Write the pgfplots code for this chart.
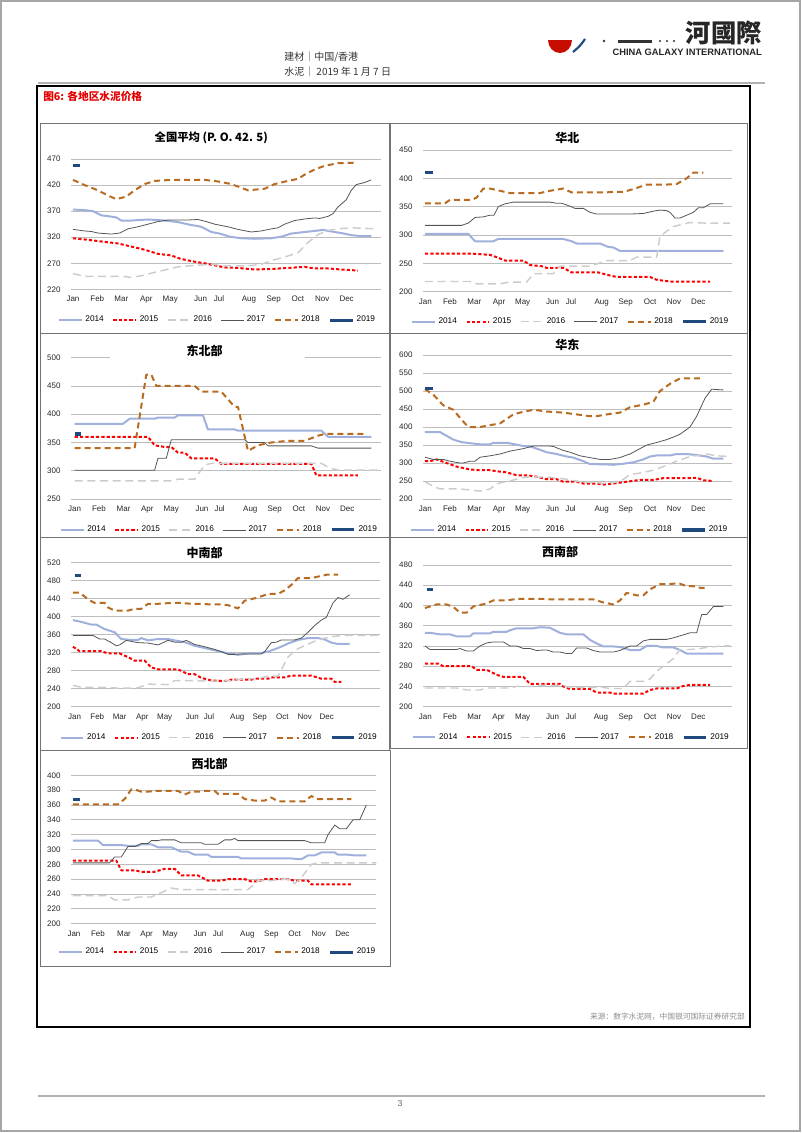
\documentclass[border=0pt]{standalone}
\usepackage{fontspec}
\setmainfont{Liberation Sans}
\newfontfamily\cjk{Noto Sans CJK SC}
\newfontfamily\cjktc{Noto Sans CJK TC}
\usepackage{pgfplots}
\pgfplotsset{compat=1.18}
\definecolor{gridc}{rgb}{0.74,0.74,0.74}
\definecolor{boxc}{rgb}{0.45,0.45,0.45}
\definecolor{c14}{rgb}{0.62,0.69,0.86}
\definecolor{c15}{rgb}{1.0,0.0,0.0}
\definecolor{c16}{rgb}{0.80,0.80,0.80}
\definecolor{c17}{rgb}{0.33,0.33,0.33}
\definecolor{c18}{rgb}{0.72,0.42,0.13}
\definecolor{c19}{rgb}{0.12,0.29,0.50}
\pgfplotsset{
  s14/.style={color=c14, line width=1.5pt, solid},
  s15/.style={color=c15, line width=1.5pt, dash pattern=on 2.4pt off 1.6pt},
  s16/.style={color=c16, line width=1.1pt, dash pattern=on 6pt off 3.5pt},
  s17/.style={color=c17, line width=0.6pt, solid},
  s18/.style={color=c18, line width=1.5pt, dash pattern=on 4.5pt off 3pt},
  s19/.style={color=c19, line width=2.3pt, solid},
  panel/.style={
    scale only axis, xmin=100, xmax=1025, no markers,
    axis x line*=bottom, axis y line*=left,
    x axis line style={draw=gridc, line width=0.6pt, -},
    y axis line style={draw=none},
    major tick length=0pt, tick style={draw=none},
    ymajorgrids, grid style={gridc, line width=0.6pt},
    tick label style={font=\fontsize{6}{7}\selectfont, text=black!85},
    /pgf/number format/assume math mode=true,
    xticklabels={Jan,Feb,Mar,Apr,May,Jun,Jul,Aug,Sep,Oct,Nov,Dec},
    yticklabel style={xshift=-4.5pt},
    xticklabel style={yshift=-1.2pt, text height=4.5pt, text depth=1.3pt},
    clip=false,
    legend style={draw=none, fill=none, anchor=center, font=\fontsize{6.2}{7}\selectfont,
      legend columns=6, /tikz/every even column/.append style={column sep=4.5pt},
      /tikz/every odd column/.append style={column sep=0pt}, inner sep=0pt},
    legend image code/.code={\draw[##1] (0pt,0pt) -- (17pt,0pt);},
    legend entries={2014,2015,2016,2017,2018,2019},
    line join=round,
  }
}
\begin{document}
\begin{tikzpicture}[x=0.75pt,y=0.75pt]
\path (0,0) rectangle (802,-1133);
\coordinate (P1) at (71.3,-289.3);
\coordinate (P2) at (423.3,-291.7);
\coordinate (P3) at (71.3,-499);
\coordinate (P4) at (423.3,-499);
\coordinate (P5) at (71.3,-706.7);
\coordinate (P6) at (423.3,-706.7);
\coordinate (P7) at (71.3,-923.7);
% page border
\draw[gray!70, line width=0.9pt] (1,-1) rectangle (800,-1131);
% header
\fill[red!75!black!90!orange] (548,-40) arc (180:360:12 and 13) -- cycle;
\draw[c19, line width=1.6pt] (585,-39) .. controls (580,-46) .. (573,-52);
\fill[black!80] (604,-41) circle (1.3);
\fill[black!80] (618,-40) rectangle (652,-42.5);
\fill[black!80] (660,-41) circle (1.1);
\fill[black!80] (667,-41) circle (1.1);
\fill[black!80] (674,-41) circle (1.1);
\node[anchor=east, font=\cjktc\bfseries\fontsize{19}{20}\selectfont, text=black!85, inner sep=0pt] at (762,-33) {河國際};
\node[anchor=east, font=\bfseries\fontsize{7}{8}\selectfont, text=black!85, inner sep=0pt] at (762,-52) {CHINA GALAXY INTERNATIONAL};
\node[anchor=west, font=\cjk\fontsize{7.5}{9}\selectfont, text=black!80, inner sep=0pt] at (284,-57) {建材｜中国/香港};
\node[anchor=west, font=\cjk\fontsize{7.5}{9}\selectfont, text=black!80, inner sep=0pt] at (284,-72) {水泥｜ 2019 年 1 月 7 日};
\draw[gray!60, line width=1.3pt] (38,-83) -- (765,-83);
\draw[gray!60, line width=1.3pt] (38,-1096) -- (765,-1096);
\node[font=\fontsize{6.5}{7}\selectfont, text=black!60] at (400,-1104) {3};
% main frame
\draw[black, line width=0.9pt] (37,-86) rectangle (750,-1027);
\node[anchor=west, font=\cjk\bfseries\fontsize{8}{9}\selectfont, text=red!90!black, inner sep=0pt] at (43,-96) {图6: 各地区水泥价格};
\node[anchor=east, font=\cjk\fontsize{5.8}{7}\selectfont, text=black!45, inner sep=0pt] at (745,-1017) {来源：数字水泥网，中国银河国际证券研究部};
% chart boxes
\draw[boxc, line width=0.7pt] (40,-123) rectangle (389,-333);
\draw[boxc, line width=0.7pt] (390,-123) rectangle (747,-333);
\draw[boxc, line width=0.7pt] (40,-333) rectangle (389,-537);
\draw[boxc, line width=0.7pt] (390,-333) rectangle (747,-537);
\draw[boxc, line width=0.7pt] (40,-537) rectangle (389,-750);
\draw[boxc, line width=0.7pt] (390,-537) rectangle (747,-748);
\draw[boxc, line width=0.7pt] (40,-750) rectangle (390,-966);

% ===== Chart 1 =====
\begin{axis}[panel, at={(P1)}, anchor=south west, width=232.5pt, height=97.7pt,
  xmax=1030, ymin=220, ymax=470, ytick={220,270,...,470},
  xtick={105,178,250,325,397,488,543,633,707,780,853,926},
  legend style={at={(0.473,-0.236)}}]
\addplot[s14] coordinates {(105,373)(140,372)(165,370)(190,362)(215,360)(235,358)(250,352)(280,352)(330,354)(380,352)(420,349)(455,344)(490,340)(520,330)(545,327)(575,321)(610,318)(650,317)(700,318)(730,321)(760,327)(800,330)(830,332)(855,334)(880,331)(910,328)(940,324)(970,322)(1000,322)};
\addplot[s15] coordinates {(105,318)(150,315)(200,311)(240,308)(280,302)(320,296)(360,288)(400,285)(430,278)(470,273)(500,270)(530,266)(560,262)(600,261)(650,258)(700,259)(750,261)(800,263)(830,260)(870,260)(910,258)(960,256)};
\addplot[s16] coordinates {(105,250)(140,245)(200,245)(250,245)(280,243)(310,246)(340,251)(380,257)(420,263)(470,266)(520,268)(560,265)(630,265)(670,268)(700,275)(740,282)(780,290)(810,310)(840,325)(870,333)(900,336)(940,338)(980,337)(1020,336)};
\addplot[s17] coordinates {(105,335)(140,332)(160,331)(180,328)(220,326)(245,328)(270,336)(300,340)(330,345)(360,350)(390,353)(450,353)(480,354)(505,350)(530,345)(570,340)(600,335)(640,330)(670,332)(700,336)(720,338)(740,345)(770,352)(800,355)(830,357)(845,356)(870,360)(885,365)(900,378)(925,392)(940,410)(955,421)(980,425)(1000,430)};
\addplot[s18] coordinates {(105,430)(140,420)(180,410)(210,400)(235,393)(265,398)(290,410)(320,422)(350,428)(400,430)(450,430)(500,430)(540,427)(580,422)(630,410)(680,413)(710,422)(750,428)(780,432)(800,440)(830,450)(860,457)(900,462)(950,463)};
\addplot[s19] coordinates {(105,457)(125,457)};
\end{axis}
\node[font=\cjk\bfseries\fontsize{8.5}{10}\selectfont] at (211.3,-137.3) {全国平均 (P. O.  42. 5)};

% ===== Chart 2 =====
\begin{axis}[panel, at={(P2)}, anchor=south west, width=231.3pt, height=106.3pt,
  ymin=200, ymax=450, ytick={200,250,...,450},
  xtick={106,180,253,327,398,488,543,635,707,780,852,925},
  legend style={at={(0.479,-0.212)}}]
\addplot[s14] coordinates {(105,302)(235,302)(255,289)(310,289)(325,293)(520,293)(545,289)(560,285)(630,285)(655,279)(670,278)(690,272)(1000,272)};
\addplot[s15] coordinates {(105,267)(250,267)(300,265)(320,261)(345,255)(400,255)(420,247)(455,245)(470,242)(520,242)(545,234)(625,234)(650,230)(680,226)(780,226)(800,221)(840,218)(960,218)};
\addplot[s16] coordinates {(105,218)(240,218)(260,214)(330,214)(360,217)(410,217)(430,232)(490,232)(510,245)(600,245)(650,255)(720,255)(740,261)(800,261)(810,298)(850,315)(900,322)(950,321)(1020,321)};
\addplot[s17] coordinates {(105,317)(215,317)(235,321)(255,331)(280,332)(300,335)(312,335)(325,350)(345,355)(370,358)(480,358)(500,356)(515,356)(535,352)(555,347)(580,347)(600,340)(620,337)(720,337)(760,338)(790,342)(810,344)(830,343)(840,340)(855,330)(870,330)(890,335)(910,340)(925,348)(940,348)(960,355)(1000,355)};
\addplot[s18] coordinates {(105,356)(165,356)(180,362)(245,362)(260,366)(280,382)(300,382)(330,378)(360,374)(450,374)(480,378)(520,382)(545,375)(640,375)(670,376)(700,376)(730,381)(770,389)(830,389)(860,390)(890,400)(910,410)(940,410)};
\addplot[s19] coordinates {(105,411)(130,411)};
\end{axis}
\node[font=\cjk\bfseries\fontsize{9}{10}\selectfont] at (567.3,-138.3) {华北};

% ===== Chart 3 =====
\begin{axis}[panel, at={(P3)}, anchor=south west, width=232pt, height=106pt,
  xmax=1028, ymin=250, ymax=500, ytick={250,300,...,500},
  xtick={110,183,257,328,400,492,545,637,710,783,855,928},
  legend style={at={(0.48,-0.219)}}]
\addplot[s14] coordinates {(110,383)(255,383)(275,392)(350,392)(360,394)(410,394)(420,398)(495,398)(510,373)(590,373)(600,371)(850,371)(870,360)(1000,360)};
\addplot[s15] coordinates {(110,360)(330,360)(350,345)(380,342)(400,342)(420,332)(440,332)(460,322)(530,322)(550,312)(820,312)(835,292)(960,292)};
\addplot[s16] coordinates {(110,282)(400,282)(420,285)(470,285)(500,310)(520,313)(850,313)(875,305)(900,301)(1020,301)};
\addplot[s17] coordinates {(110,301)(350,301)(360,322)(385,322)(400,355)(620,355)(630,350)(680,350)(690,344)(820,344)(840,340)(1000,340)};
\addplot[s18] coordinates {(110,340)(290,340)(325,470)(340,470)(355,450)(470,450)(490,440)(550,440)(590,413)(600,413)(630,335)(660,345)(700,350)(750,353)(800,353)(840,362)(860,365)(980,365)};
\addplot[s19] coordinates {(110,365)(130,365)};
\end{axis}
\fill[white] (110,-353) rectangle (305,-362);
\node[font=\cjk\bfseries\fontsize{9}{10}\selectfont] at (204.7,-350.7) {东北部};

% ===== Chart 4 =====
\begin{axis}[panel, at={(P4)}, anchor=south west, width=231.3pt, height=108pt,
  ymin=200, ymax=600, ytick={200,250,...,600},
  xtick={106,180,253,327,398,488,542,635,707,780,852,925},
  legend style={at={(0.476,-0.215)}}]
\addplot[s14] coordinates {(105,386)(150,386)(165,378)(190,365)(215,358)(240,355)(270,352)(300,352)(310,356)(350,356)(370,353)(400,347)(420,346)(440,340)(470,330)(500,325)(530,318)(550,315)(580,305)(600,297)(650,296)(670,295)(700,298)(730,302)(760,310)(780,318)(800,321)(840,321)(860,325)(890,325)(920,322)(950,318)(970,312)(1000,312)};
\addplot[s15] coordinates {(105,305)(120,305)(140,310)(170,300)(200,290)(240,282)(270,280)(300,280)(330,276)(350,274)(380,266)(410,266)(440,262)(470,255)(500,255)(520,248)(560,248)(580,243)(620,243)(640,240)(670,243)(710,248)(750,253)(790,253)(820,258)(900,258)(920,259)(940,252)(970,250)};
\addplot[s16] coordinates {(105,248)(130,235)(150,228)(210,228)(240,225)(270,222)(300,228)(310,235)(330,245)(360,250)(390,258)(420,262)(480,260)(530,255)(570,248)(640,244)(690,248)(720,268)(750,272)(790,280)(820,290)(860,305)(900,318)(950,325)(980,320)(1020,318)};
\addplot[s17] coordinates {(105,316)(130,310)(160,310)(180,305)(210,300)(220,300)(240,305)(255,305)(270,316)(300,320)(330,325)(360,333)(400,340)(430,347)(480,347)(490,346)(520,335)(540,330)(570,320)(600,315)(630,310)(660,310)(690,315)(710,322)(720,325)(750,340)(770,350)(800,357)(830,365)(850,372)(870,380)(900,400)(920,430)(945,480)(965,505)(1000,503)};
\addplot[s18] coordinates {(105,505)(130,490)(160,460)(190,448)(215,420)(235,400)(270,400)(300,405)(330,410)(370,435)(390,440)(430,448)(470,443)(520,440)(560,435)(600,430)(620,430)(650,435)(690,440)(720,455)(760,462)(790,470)(810,500)(840,520)(870,535)(940,535)};
\addplot[s19] coordinates {(105,508)(130,508)};
\end{axis}
\node[font=\cjk\bfseries\fontsize{9}{10}\selectfont] at (567.3,-345) {华东};

% ===== Chart 5 =====
\begin{axis}[panel, at={(P5)}, anchor=south west, width=231.3pt, height=108.3pt,
  ymin=200, ymax=520, ytick={200,240,...,520},
  xtick={110,178,245,313,380,463,513,598,665,733,800,866},
  legend style={at={(0.481,-0.215)}}]
\addplot[s14] coordinates {(105,392)(130,388)(160,382)(175,382)(200,372)(230,365)(250,350)(280,348)(300,348)(310,352)(330,347)(360,350)(390,350)(410,347)(440,343)(470,335)(500,330)(530,325)(560,320)(600,315)(630,318)(660,318)(690,322)(720,330)(750,340)(780,348)(810,352)(840,352)(860,349)(880,342)(900,339)(935,339)};
\addplot[s15] coordinates {(105,333)(125,323)(190,323)(210,318)(245,318)(270,310)(290,302)(320,302)(340,287)(360,283)(420,283)(450,272)(470,272)(490,264)(520,258)(570,257)(580,260)(640,260)(650,262)(690,262)(700,265)(740,265)(760,269)(820,269)(850,262)(880,262)(890,255)(910,255)};
\addplot[s16] coordinates {(105,247)(130,243)(210,243)(240,241)(290,241)(300,242)(330,250)(390,249)(410,258)(460,258)(500,257)(560,257)(580,258)(620,262)(660,262)(690,268)(720,268)(750,310)(770,325)(790,332)(830,345)(860,352)(880,355)(910,358)(1020,358)};
\addplot[s17] coordinates {(105,358)(165,358)(185,350)(200,350)(220,342)(235,335)(245,337)(265,347)(300,342)(330,341)(360,337)(390,347)(410,343)(430,343)(445,347)(470,338)(500,333)(530,327)(550,322)(570,316)(590,316)(610,317)(670,317)(680,322)(700,342)(715,343)(730,348)(770,348)(790,352)(810,365)(830,380)(850,392)(865,398)(885,430)(900,442)(915,438)(935,448)};
\addplot[s18] coordinates {(105,453)(125,453)(150,438)(170,430)(200,430)(210,420)(230,413)(270,413)(290,417)(310,417)(330,428)(360,428)(400,430)(430,430)(460,428)(490,428)(510,427)(550,427)(570,425)(600,418)(620,435)(660,442)(690,450)(720,450)(740,458)(760,470)(780,485)(820,485)(850,490)(870,493)(900,493)};
\addplot[s19] coordinates {(110,490)(130,490)};
\end{axis}
\node[font=\cjk\bfseries\fontsize{9}{10}\selectfont] at (204.7,-553.3) {中南部};

% ===== Chart 6 =====
\begin{axis}[panel, at={(P6)}, anchor=south west, width=231.3pt, height=106.3pt,
  ymin=200, ymax=480, ytick={200,240,...,480},
  xtick={106,180,253,326,398,488,543,633,707,780,852,925},
  legend style={at={(0.481,-0.216)}}]
\addplot[s14] coordinates {(105,346)(120,346)(150,343)(180,343)(200,339)(240,339)(250,345)(300,345)(310,348)(350,348)(360,351)(380,355)(430,355)(450,357)(480,356)(510,346)(530,343)(580,343)(600,332)(620,325)(640,319)(670,319)(690,318)(720,312)(750,312)(770,320)(800,320)(820,317)(850,317)(870,312)(890,305)(1000,305)};
\addplot[s15] coordinates {(105,285)(145,285)(160,280)(245,280)(260,273)(290,273)(320,263)(340,259)(400,259)(420,245)(510,245)(520,240)(540,235)(600,235)(620,228)(660,228)(670,226)(760,226)(780,233)(800,236)(860,236)(880,241)(900,243)(960,243)};
\addplot[s16] coordinates {(105,237)(200,237)(230,233)(270,233)(290,237)(360,237)(380,240)(420,240)(440,242)(520,242)(540,238)(640,238)(660,236)(700,236)(720,250)(760,250)(780,255)(800,270)(830,285)(850,295)(870,313)(900,313)(930,315)(960,318)(1000,320)(1020,320)};
\addplot[s17] coordinates {(105,320)(120,313)(200,313)(210,315)(230,310)(250,310)(270,320)(290,326)(310,328)(340,328)(360,320)(380,320)(400,315)(420,315)(440,311)(460,312)(470,312)(490,308)(510,308)(530,305)(545,305)(560,316)(590,316)(610,311)(630,308)(670,308)(690,311)(720,320)(740,320)(760,330)(780,333)(830,333)(850,336)(870,340)(900,346)(920,346)(935,382)(950,382)(970,398)(1000,398)};
\addplot[s18] coordinates {(105,395)(140,402)(170,402)(190,397)(210,386)(230,386)(250,398)(290,404)(310,410)(350,410)(380,413)(470,413)(480,412)(610,412)(640,406)(670,402)(690,410)(710,425)(740,420)(760,420)(780,432)(810,442)(830,442)(850,443)(870,443)(890,438)(910,438)(930,435)(950,435)};
\addplot[s19] coordinates {(110,432)(130,432)};
\end{axis}
\node[font=\cjk\bfseries\fontsize{9}{10}\selectfont] at (560,-552.3) {西南部};

% ===== Chart 7 =====
\begin{axis}[panel, at={(P7)}, anchor=south west, width=228.8pt, height=111.3pt,
  xmax=1015, ymin=200, ymax=400, ytick={200,220,...,400},
  xtick={108,180,258,326,396,486,540,628,700,770,842,913},
  legend style={at={(0.481,-0.191)}}]
\addplot[s14] coordinates {(105,312)(180,312)(195,306)(250,306)(270,305)(300,305)(310,307)(340,307)(360,303)(400,303)(410,301)(430,297)(450,297)(470,293)(510,293)(520,290)(600,290)(610,288)(760,288)(780,287)(790,287)(810,292)(830,292)(850,296)(890,296)(900,293)(930,293)(950,292)(985,292)};
\addplot[s15] coordinates {(105,285)(235,285)(250,272)(290,272)(310,270)(350,270)(380,274)(410,274)(430,265)(480,265)(510,258)(550,258)(570,260)(620,260)(640,257)(660,257)(680,260)(750,260)(770,258)(810,258)(820,253)(945,253)};
\addplot[s16] coordinates {(105,238)(210,238)(230,232)(270,232)(300,236)(340,236)(360,240)(400,248)(430,246)(630,246)(660,258)(700,258)(720,260)(750,260)(770,254)(790,262)(820,280)(840,282)(1015,282)};
\addplot[s17] coordinates {(105,282)(215,282)(230,290)(250,290)(270,304)(290,304)(310,308)(330,308)(340,312)(360,312)(370,313)(410,313)(430,309)(490,309)(500,307)(540,307)(560,313)(580,313)(590,315)(600,312)(800,312)(820,309)(860,309)(870,320)(890,333)(905,328)(925,328)(945,340)(965,340)(985,360)};
\addplot[s18] coordinates {(105,361)(240,361)(260,368)(280,381)(290,381)(310,378)(330,378)(350,379)(420,379)(440,374)(460,378)(490,378)(500,379)(530,379)(540,375)(600,375)(620,368)(650,366)(680,366)(700,370)(720,365)(800,365)(820,372)(840,368)(940,368)};
\addplot[s19] coordinates {(105,368)(125,368)};
\end{axis}
\node[font=\cjk\bfseries\fontsize{9}{10}\selectfont] at (209.7,-764) {西北部};
\end{tikzpicture}
\end{document}
